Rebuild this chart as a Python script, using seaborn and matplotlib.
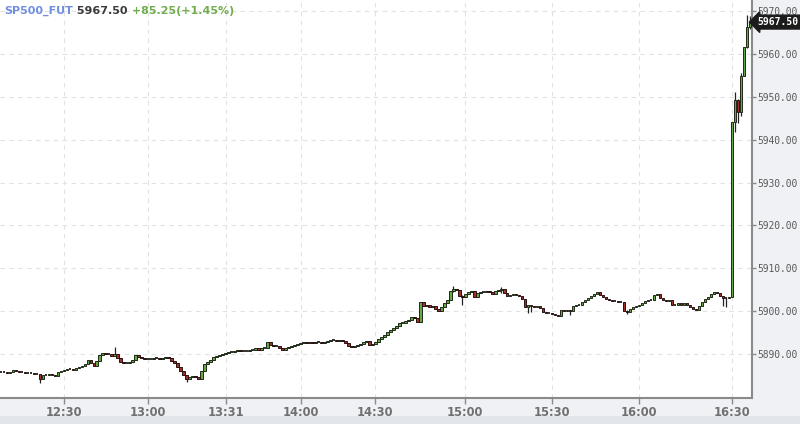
import matplotlib
matplotlib.use("Agg")
import matplotlib.pyplot as plt
import seaborn as sns
import pandas as pd
from matplotlib.patches import Rectangle

# ---------------- data ----------------
symbol = "SP500_FUT"
last_price = 5967.50
change_pts = 85.25
change_pct = 1.45

first_open = 5885.75
closes = [
    5885.75, 5885.75, 5885.5, 5885.75, 5886.25, 5886.0, 5885.75, 5885.75, 5885.5, 5885.5,
    5885.5, 5885.25, 5885.25, 5884.0, 5885.0, 5885.0, 5885.25, 5885.0, 5884.75, 5885.75,
    5886.0, 5886.25, 5886.5, 5886.5, 5886.25, 5886.75, 5887.0, 5887.25, 5887.5, 5888.5,
    5887.75, 5887.25, 5888.25, 5889.75, 5890.25, 5890.0, 5890.0, 5889.5, 5890.0, 5889.0,
    5888.0, 5887.75, 5887.75, 5888.0, 5888.5, 5889.75, 5889.25, 5889.0, 5888.75, 5888.75,
    5888.75, 5889.0, 5889.0, 5888.75, 5889.0, 5889.25, 5889.0, 5888.25, 5887.75, 5887.0,
    5886.0, 5885.0, 5884.0, 5884.5, 5884.75, 5884.5, 5884.0, 5886.0, 5887.5, 5888.0,
    5888.5, 5889.25, 5889.5, 5889.75, 5890.0, 5890.25, 5890.5, 5890.5, 5890.75, 5891.0,
    5890.75, 5890.75, 5890.75, 5891.0, 5891.0, 5891.25, 5891.0, 5891.25, 5891.25, 5892.75,
    5892.0, 5891.75, 5891.75, 5891.25, 5891.0, 5891.25, 5891.5, 5891.75, 5892.0, 5892.25,
    5892.5, 5892.75, 5892.5, 5892.75, 5892.5, 5892.75, 5892.75, 5892.5, 5892.75, 5893.0,
    5893.25, 5893.25, 5893.0, 5893.25, 5893.0, 5892.5, 5891.75, 5891.5, 5891.75, 5892.0,
    5892.25, 5892.75, 5893.0, 5892.0, 5892.25, 5892.75, 5893.5, 5894.0, 5894.5, 5895.0,
    5895.5, 5896.0, 5896.5, 5897.25, 5897.25, 5897.75, 5898.0, 5898.5, 5898.25, 5897.5,
    5902.0, 5901.25, 5901.5, 5901.0, 5901.25, 5900.5, 5900.0, 5901.0, 5901.75, 5902.5,
    5904.75, 5905.25, 5905.0, 5903.5, 5903.25, 5904.0, 5904.5, 5904.75, 5903.25, 5904.25,
    5904.5, 5904.5, 5904.75, 5904.5, 5904.0, 5904.75, 5905.0, 5905.25, 5904.25, 5903.5,
    5903.75, 5904.0, 5903.75, 5903.5, 5902.75, 5901.0, 5901.5, 5901.25, 5901.0, 5901.25,
    5900.75, 5899.75, 5899.5, 5899.5, 5899.25, 5899.0, 5898.75, 5900.25, 5900.0, 5900.25,
    5900.0, 5901.25, 5901.5, 5901.5, 5902.0, 5902.5, 5903.0, 5903.5, 5904.0, 5904.5,
    5903.75, 5903.25, 5902.75, 5902.5, 5902.25, 5902.25, 5902.0, 5902.0, 5900.0, 5899.75,
    5900.5, 5901.0, 5901.25, 5901.5, 5901.75, 5902.25, 5902.5, 5902.5, 5903.75, 5904.0,
    5903.0, 5902.5, 5902.25, 5902.5, 5901.5, 5901.5, 5901.75, 5901.5, 5901.75, 5901.5,
    5901.0, 5900.5, 5900.25, 5901.25, 5902.0, 5902.75, 5903.25, 5904.0, 5904.5, 5904.25,
    5903.5, 5903.0, 5903.0, 5903.25, 5944.25, 5949.25, 5946.5, 5955.0, 5961.75, 5966.25,
    5967.5,
]

# candles with visible wicks beyond their bodies
wick_idx = [13, 38, 62, 151, 154, 167, 176, 177, 190, 209, 241, 242, 245, 246, 247, 249, 250]
wick_high = [5885.25, 5891.5, 5885.0, 5905.75, 5903.75, 5905.5, 5901.5, 5901.5, 5900.25,
             5900.25, 5903.5, 5903.25, 5951.25, 5949.5, 5955.5, 5969.25, 5969.0]
wick_low = [5883.25, 5889.75, 5883.5, 5904.5, 5901.5, 5904.25, 5899.5, 5899.75, 5899.0,
            5899.25, 5901.25, 5901.0, 5941.75, 5944.0, 5945.5, 5961.5, 5966.0]

tick_idx = [21, 49, 75, 100, 125, 155, 184, 213, 244]
tick_labels = ["12:30", "13:00", "13:31", "14:00", "14:30", "15:00", "15:30", "16:00", "16:30"]
y_ticks = [5890, 5900, 5910, 5920, 5930, 5940, 5950, 5960, 5970]

# ---------------- build OHLC table ----------------
opens = [first_open] + closes[:-1]
df = pd.DataFrame({"open": opens, "close": closes})
df["idx"] = range(len(df))
df["high"] = df[["open", "close"]].max(axis=1)
df["low"] = df[["open", "close"]].min(axis=1)
for i, h, l in zip(wick_idx, wick_high, wick_low):
    df.loc[i, "high"] = max(df.loc[i, "high"], h)
    df.loc[i, "low"] = min(df.loc[i, "low"], l)

# ---------------- style ----------------
sns.set_theme(style="white")
plt.rcParams["font.family"] = ["DejaVu Sans"]

fig = plt.figure(figsize=(8.0, 4.24), dpi=100, facecolor="#eff1f4")
ax = fig.add_axes([0.0, 26 / 424, 752 / 800, 398 / 424])
ax.set_facecolor("white")

# bottom strip
fig.patches.append(Rectangle((0, 0), 1, 8 / 424, transform=fig.transFigure,
                             facecolor="#e2e5e9", edgecolor="none", zorder=0))

GREEN = "#66a843"
RED = "#a3312b"

# wicks
ax.vlines(df["idx"], df["low"], df["high"], color="#222222", linewidth=0.9, zorder=2)

# bodies
body = (df["close"] - df["open"])
up = body > 0.1
down = body < -0.1
flat = ~(up | down)
w = 0.85
ax.bar(df.loc[up, "idx"], body[up], bottom=df.loc[up, "open"], width=w,
       color=GREEN, edgecolor="#1f2a18", linewidth=0.7, zorder=3)
ax.bar(df.loc[down, "idx"], -body[down], bottom=df.loc[down, "close"], width=w,
       color=RED, edgecolor="#2a1212", linewidth=0.7, zorder=3)
ax.hlines(df.loc[flat, "close"], df.loc[flat, "idx"] - w / 2, df.loc[flat, "idx"] + w / 2,
          color="#222222", linewidth=1.3, zorder=3)

# axes setup
ax.set_xlim(-0.3, 250.7)
ax.set_ylim(5879.67, 5972.66)
ax.set_xticks(tick_idx)
ax.set_xticklabels(tick_labels)
ax.set_yticks(y_ticks)
ax.set_yticklabels([f"{v:.2f}" for v in y_ticks])
ax.yaxis.tick_right()

ax.grid(True, color="#e2e2e2", linestyle=(0, (4, 4)), linewidth=0.8)
ax.set_axisbelow(True)

for s in ["left", "top"]:
    ax.spines[s].set_visible(False)
for s in ["bottom", "right"]:
    ax.spines[s].set_visible(True)
    ax.spines[s].set_color("#8a8a8a")
    ax.spines[s].set_linewidth(1.5)

ax.tick_params(axis="x", direction="out", length=4, width=1, color="#8a8a8a",
               labelsize=8.3, labelcolor="#707070", pad=2, bottom=True)
ax.tick_params(axis="y", direction="out", length=3, width=1, color="#8a8a8a",
               labelsize=6.9, labelcolor="#5a5a5a", pad=0.5, right=True, left=False)
for lab in ax.get_yticklabels():
    lab.set_family("DejaVu Sans Mono")
for lab in ax.get_xticklabels():
    lab.set_fontweight("semibold")

# title pieces
t1 = ax.text(0.006, 0.985, symbol, transform=ax.transAxes, ha="left", va="top",
             fontsize=8, fontweight="bold", color="#6f8fe0")
t2 = ax.annotate(f" {last_price:.2f}", xy=(1, 0), xycoords=t1, ha="left", va="bottom",
                 fontsize=8, fontweight="bold", color="#3a3a3a")
t3 = ax.annotate(f" +{change_pts:.2f}(+{change_pct:.2f}%)", xy=(1, 0), xycoords=t2,
                 ha="left", va="bottom", fontsize=8, fontweight="bold", color="#72ad4e")

# last price box
ax.annotate(f"{last_price:.2f}", xy=(1.0, last_price), xycoords=("axes fraction", "data"),
            xytext=(3.5, 0), textcoords="offset points", ha="left", va="center",
            fontsize=7.0, fontweight="bold", color="white", family="DejaVu Sans Mono",
            bbox=dict(boxstyle="larrow,pad=0.2", fc="#1c1c1c", ec="#1c1c1c"),
            annotation_clip=False, zorder=10)

fig.savefig("out.png", dpi=100, facecolor=fig.get_facecolor())
